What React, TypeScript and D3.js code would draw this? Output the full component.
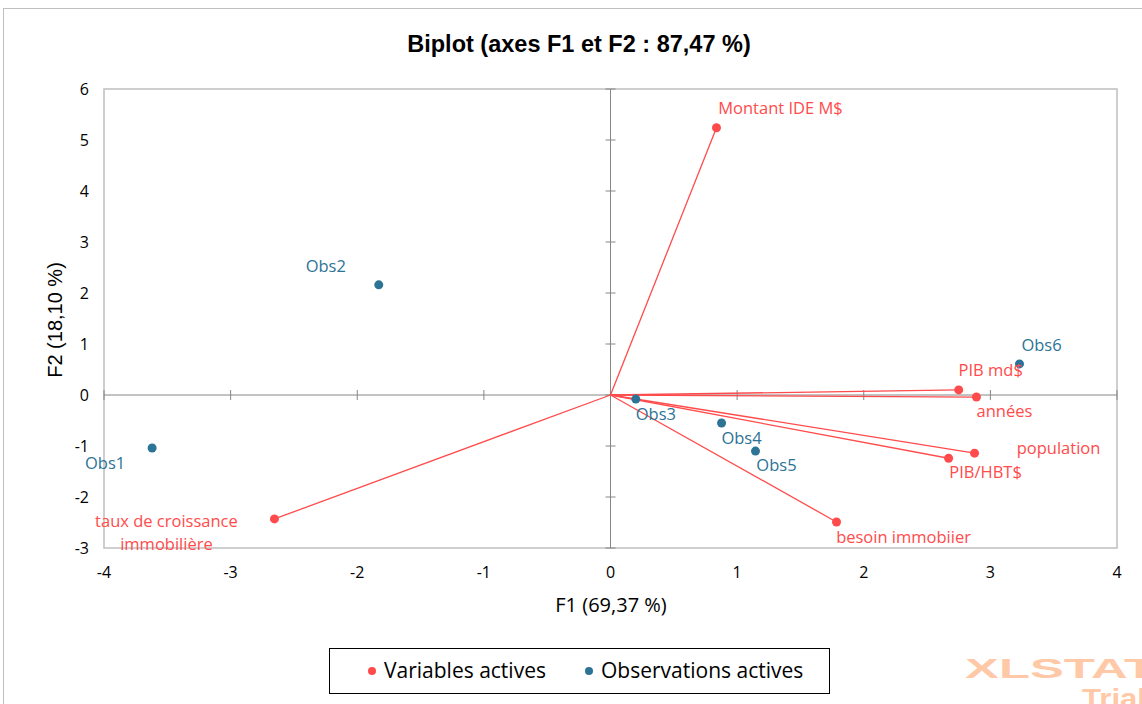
import React from "react";
import * as d3 from "d3";

const variableNames = ["Montant IDE M$", "PIB md$", "années", "population", "PIB/HBT$", "besoin immobiier", "taux de croissance\nimmobilière"];
const variableF1 = [0.837, 2.75, 2.89, 2.875, 2.67, 1.785, -2.654];
const variableF2 = [5.24, 0.10, -0.04, -1.14, -1.24, -2.49, -2.43];

const obsNames = ["Obs1", "Obs2", "Obs3", "Obs4", "Obs5", "Obs6"];
const obsF1 = [-3.62, -1.83, 0.2, 0.877, 1.145, 3.23];
const obsF2 = [-1.04, 2.16, -0.08, -0.55, -1.1, 0.61];

const xTicks = [-4, -3, -2, -1, 0, 1, 2, 3, 4];
const yTicks = [-3, -2, -1, 0, 1, 2, 3, 4, 5, 6];

// label placement offsets (px) relative to point
const labelOffsets: Record<string, [number, number]> = {
  "Montant IDE M$": [64, -21],
  "PIB md$": [32, -21],
  "années": [28, 13],
  "population": [84, -6],
  "PIB/HBT$": [37, 13],
  "besoin immobiier": [67, 14],
  "taux de croissance\nimmobilière": [-108, 13],
  Obs1: [-47, 14],
  Obs2: [-53, -20],
  Obs3: [20, 14],
  Obs4: [20, 14],
  Obs5: [21, 13],
  Obs6: [22, -20],
};

const RED = "#FF4B4B";
const BLUE = "#2C7396";
const LABEL_FONT = "'Open Sans', 'Noto Sans', sans-serif";

export default function App() {
  const W = 1142, H = 704;
  const x = d3.scaleLinear().domain([-4, 4]).range([104, 1117]);
  const y = d3.scaleLinear().domain([-3, 6]).range([548, 89]);
  const x0 = x(0), y0 = y(0);

  const renderLabel = (name: string, px: number, py: number, color: string, key: string) => {
    const [dx, dy] = labelOffsets[name] || [0, 0];
    const lines = name.split("\n");
    const lh = 23;
    return (
      <text key={key} x={px + dx} y={py + dy - ((lines.length - 1) * lh) / 2} fill={color} fontSize={16.5} fontFamily={LABEL_FONT} textAnchor="middle" dominantBaseline="central">
        {lines.map((l, i) => (
          <tspan key={i} x={px + dx} dy={i === 0 ? 0 : lh}>{l}</tspan>
        ))}
      </text>
    );
  };

  return (
    <svg width={W} height={H} style={{ position: "absolute", left: 0, top: 0, background: "#fff" }}>
      <rect x={3.5} y={8.5} width={W + 10} height={H} fill="#fff" stroke="#BFBFBF" strokeWidth={1} />
      <text x={579} y={44} textAnchor="middle" dominantBaseline="central" fontFamily="'Liberation Sans', Arial, sans-serif" fontWeight="bold" fontSize={23.5}>
        Biplot (axes F1 et F2 : 87,47 %)
      </text>
      {/* plot border */}
      <rect x={x(-4)} y={y(6)} width={x(4) - x(-4)} height={y(-3) - y(6)} fill="none" stroke="#BFBFBF" strokeWidth={1.5} />
      {/* zero axes */}
      <line x1={x(-4)} x2={x(4)} y1={y0} y2={y0} stroke="#868686" strokeWidth={1} />
      <line x1={x0} x2={x0} y1={y(6)} y2={y(-3)} stroke="#868686" strokeWidth={1} />
      {yTicks.map((t) => (
        <line key={"yt" + t} x1={x0 - 5} x2={x0 + 5} y1={y(t)} y2={y(t)} stroke="#868686" />
      ))}
      {xTicks.map((t) => (
        <line key={"xt" + t} x1={x(t)} x2={x(t)} y1={y0 - 5} y2={y0 + 5} stroke="#868686" />
      ))}
      {/* tick labels */}
      {yTicks.map((t) => (
        <text key={"yl" + t} x={89} y={y(t)} textAnchor="end" dominantBaseline="central" fontSize={16} fontFamily={LABEL_FONT} fill="#000">{t}</text>
      ))}
      {xTicks.map((t) => (
        <text key={"xl" + t} x={x(t)} y={572} textAnchor="middle" dominantBaseline="central" fontSize={16} fontFamily={LABEL_FONT} fill="#000">{t}</text>
      ))}
      <text x={611} y={604} textAnchor="middle" dominantBaseline="central" fontSize={20} fontFamily={LABEL_FONT}>F1 (69,37 %)</text>
      <text transform={`translate(55,320) rotate(-90)`} textAnchor="middle" dominantBaseline="central" fontSize={20} fontFamily="'Liberation Sans', Arial, sans-serif">F2 (18,10 %)</text>
      {/* vectors */}
      {variableNames.map((n, i) => (
        <line key={"v" + i} x1={x0} y1={y0} x2={x(variableF1[i])} y2={y(variableF2[i])} stroke={RED} strokeWidth={1.3} />
      ))}
      {variableNames.map((n, i) => (
        <circle key={"vc" + i} cx={x(variableF1[i])} cy={y(variableF2[i])} r={4.5} fill={RED} />
      ))}
      {obsNames.map((n, i) => (
        <circle key={"oc" + i} cx={x(obsF1[i])} cy={y(obsF2[i])} r={4.5} fill={BLUE} />
      ))}
      {variableNames.map((n, i) => renderLabel(n, x(variableF1[i]), y(variableF2[i]), RED, "vl" + i))}
      {obsNames.map((n, i) => renderLabel(n, x(obsF1[i]), y(obsF2[i]), BLUE, "ol" + i))}
      {/* legend */}
      <rect x={329.5} y={648.5} width={500} height={45} fill="#fff" stroke="#000" strokeWidth={1} />
      <circle cx={372} cy={671} r={4} fill={RED} />
      <text x={384} y={670} dominantBaseline="central" fontSize={21} fontFamily={LABEL_FONT}>Variables actives</text>
      <circle cx={589} cy={671} r={4} fill={BLUE} />
      <text x={601} y={670} dominantBaseline="central" fontSize={21} fontFamily={LABEL_FONT}>Observations actives</text>
      {/* watermark */}
      <text x={965} y={678} fontSize={28} fontWeight="bold" fontFamily="'Liberation Sans', Arial, sans-serif" fill="#FFC8A6" textLength={190} lengthAdjust="spacingAndGlyphs">XLSTAT</text>
      <text x={1082} y={708} fontSize={28} fontWeight="bold" fontFamily="'Liberation Sans', Arial, sans-serif" fill="#FFC8A6" textLength={64} lengthAdjust="spacingAndGlyphs">Trial</text>
    </svg>
  );
}
